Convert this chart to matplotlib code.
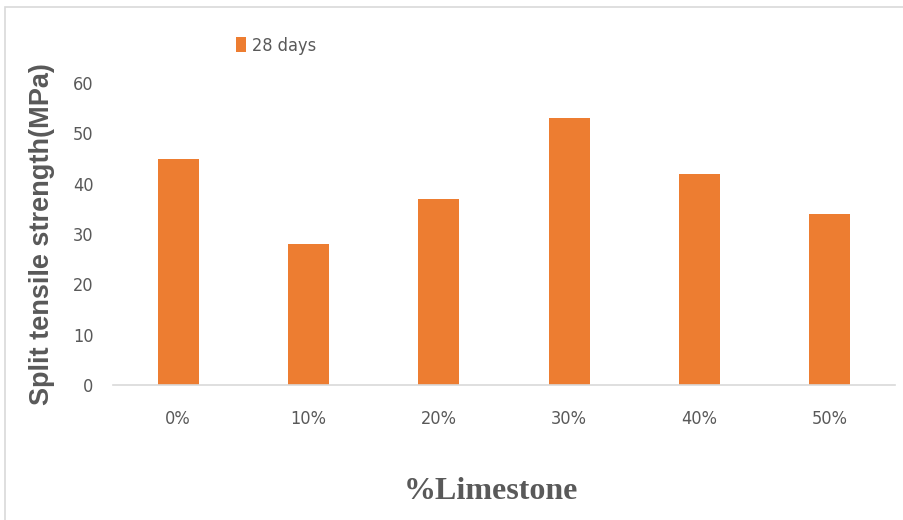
import matplotlib
matplotlib.use("Agg")
import matplotlib.pyplot as plt
from matplotlib.patches import Rectangle

# --- Data ---
categories = ["0%", "10%", "20%", "30%", "40%", "50%"]
strength_28d = [45, 28, 37, 53, 42, 34]
yticks = [0, 10, 20, 30, 40, 50, 60]

bar_color = "#ED7D31"
text_gray = "#595959"

fig = plt.figure(figsize=(9.04, 5.2), dpi=100)
ax = fig.add_axes([0.125, 0.26, 0.865, 0.58])

x = range(len(categories))
bars = ax.bar(x, strength_28d, width=0.315, color=bar_color, label="28 days")

ax.set_xlim(-0.5, len(categories) - 0.5)
ax.set_ylim(0, 60)
ax.set_yticks(yticks)
ax.set_xticks(list(x))
ax.set_xticklabels(categories)

for side in ["top", "right", "left"]:
    ax.spines[side].set_visible(False)
ax.spines["bottom"].set_color("#d9d9d9")
ax.spines["bottom"].set_linewidth(1.2)
ax.tick_params(axis="both", length=0, colors=text_gray, labelsize=13)
ax.tick_params(axis="x", pad=18)
ax.tick_params(axis="y", pad=14)
for lbl in ax.get_xticklabels() + ax.get_yticklabels():
    lbl.set_fontstretch("condensed")

ax.set_ylabel("Split tensile strength(MPa)", fontsize=19.5, fontweight="bold",
              color=text_gray, fontfamily="Liberation Sans")
ax.yaxis.set_label_coords(-0.074, 0.5)
fig.text(0.543, 0.055, "%Limestone", ha="center", va="center", fontsize=23,
         fontweight="bold", color=text_gray, fontfamily="Liberation Serif")

# legend above the plot, left of centre
leg = fig.legend(handles=[bars], labels=["28 days"], loc="center", bbox_to_anchor=(0.305, 0.912),
                 frameon=False, fontsize=13, labelcolor=text_gray, handlelength=0.6,
                 handleheight=0.9, handletextpad=0.3)
for t in leg.get_texts():
    t.set_fontstretch("condensed")

# light chart border
fig.patches.append(Rectangle((0.006, -0.01), 1.2, 0.997, transform=fig.transFigure,
                             fill=False, edgecolor="#d9d9d9", linewidth=1.2))

fig.savefig("out.png", dpi=100)
